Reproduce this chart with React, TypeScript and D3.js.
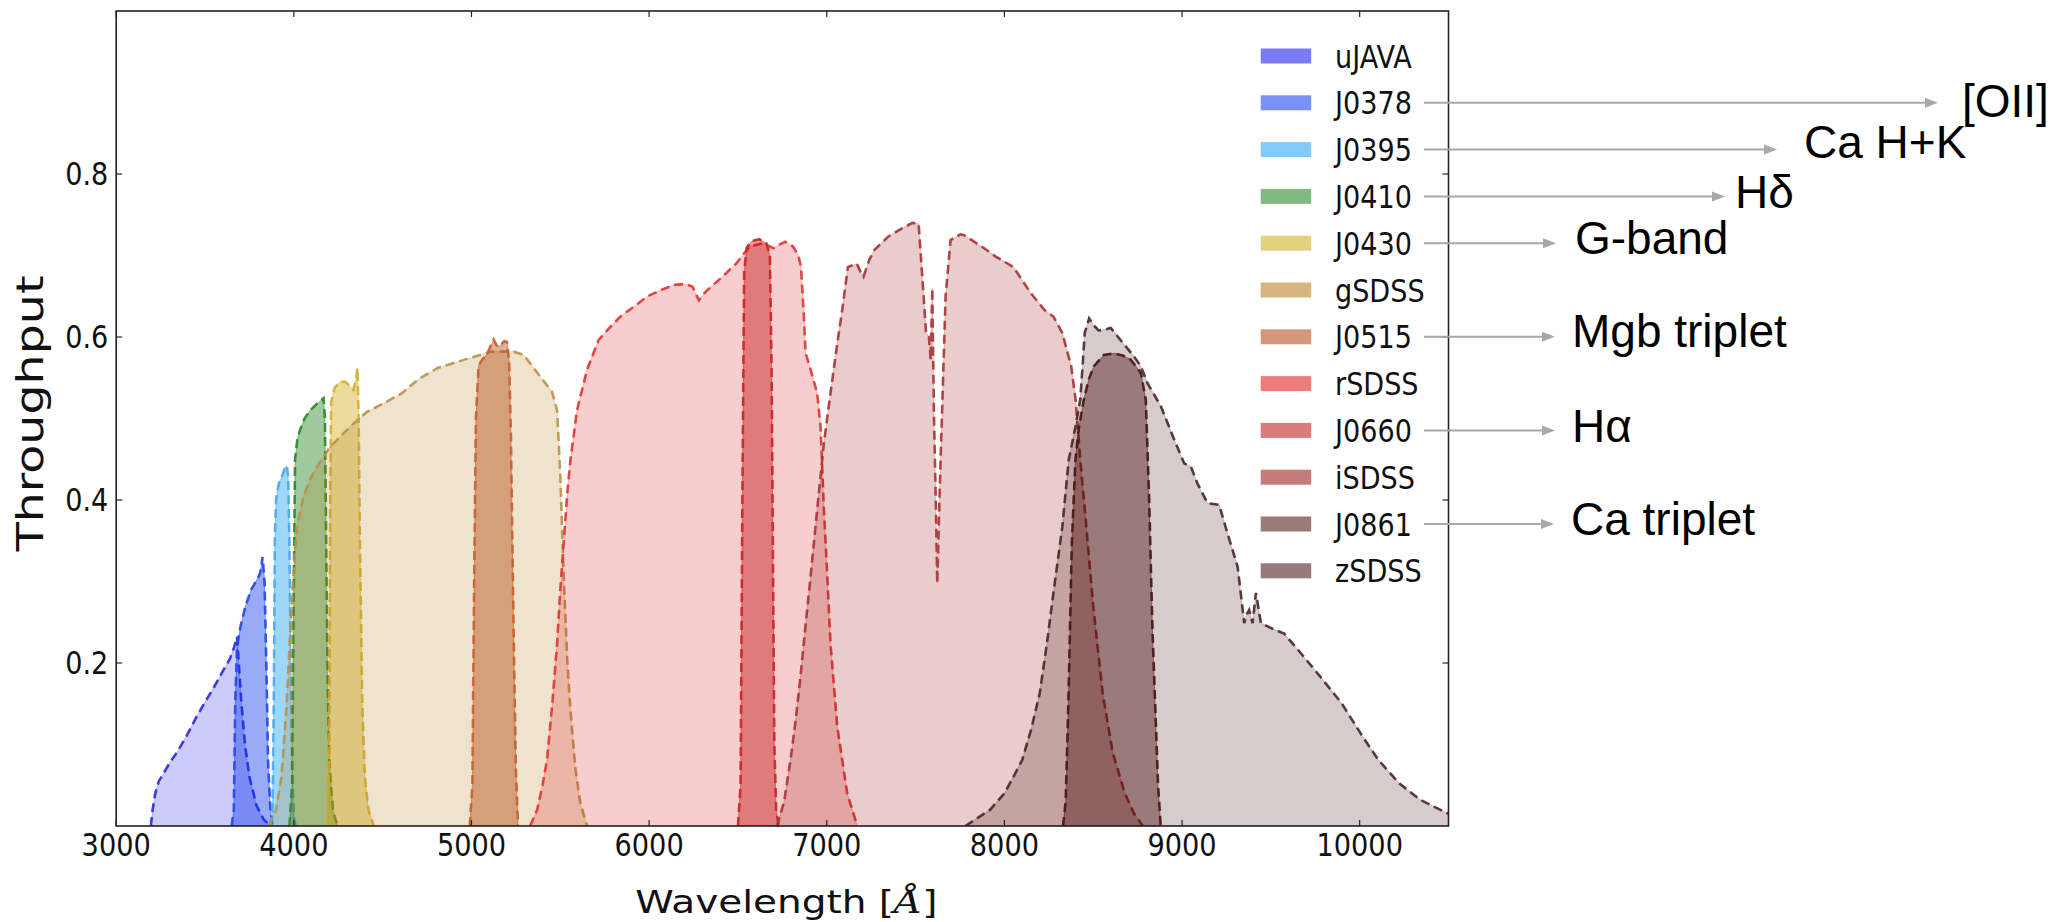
import React from 'react';
import * as d3 from 'd3';

type Pt = [number, number];

// ---- Filter throughput curves (wavelength in Å, throughput) ----
const uJAVA: Pt[] = [[3195,0],[3205,0.02],[3220,0.04],[3240,0.055],[3300,0.077],[3350,0.093],[3400,0.112],[3450,0.133],[3500,0.152],[3550,0.17],[3600,0.19],[3640,0.205],[3665,0.22],[3680,0.232],[3690,0.2],[3705,0.15],[3725,0.1],[3750,0.06],[3790,0.025],[3830,0.008],[3870,0]];
const J0378: Pt[] = [[3650,0],[3662,0.02],[3670,0.15],[3680,0.22],[3700,0.245],[3728,0.27],[3760,0.29],[3792,0.302],[3810,0.31],[3824,0.33],[3835,0.3],[3845,0.2],[3855,0.08],[3868,0.02],[3880,0]];
const J0395: Pt[] = [[3868,0],[3880,0.02],[3887,0.15],[3893,0.35],[3900,0.4],[3915,0.42],[3935,0.43],[3950,0.44],[3960,0.442],[3968,0.43],[3975,0.35],[3982,0.2],[3990,0.07],[4000,0.01],[4010,0]];
const J0410: Pt[] = [[3975,0],[3990,0.05],[4000,0.3],[4007,0.45],[4020,0.475],[4035,0.486],[4060,0.5],[4092,0.51],[4130,0.518],[4167,0.525],[4175,0.5],[4182,0.35],[4190,0.18],[4200,0.08],[4220,0.02],[4245,0]];
const J0430: Pt[] = [[4190,0],[4200,0.1],[4205,0.4],[4210,0.52],[4230,0.538],[4260,0.545],[4290,0.545],[4315,0.54],[4335,0.535],[4350,0.548],[4358,0.562],[4365,0.5],[4372,0.35],[4385,0.15],[4400,0.06],[4420,0.02],[4450,0]];
const gSDSS: Pt[] = [[3860,0],[3900,0.02],[3930,0.06],[3960,0.15],[3980,0.24],[3995,0.3],[4017,0.367],[4054,0.404],[4090,0.425],[4130,0.441],[4204,0.465],[4317,0.49],[4410,0.508],[4500,0.518],[4609,0.531],[4700,0.548],[4810,0.562],[4900,0.568],[4986,0.574],[5050,0.578],[5112,0.582],[5238,0.582],[5294,0.578],[5340,0.565],[5388,0.551],[5453,0.533],[5482,0.51],[5500,0.43],[5519,0.306],[5540,0.2],[5557,0.142],[5585,0.07],[5613,0.028],[5650,0]];
const J0515: Pt[] = [[4990,0],[5005,0.05],[5015,0.3],[5025,0.5],[5040,0.565],[5060,0.572],[5090,0.58],[5110,0.59],[5125,0.597],[5145,0.588],[5165,0.59],[5185,0.595],[5200,0.594],[5212,0.57],[5222,0.48],[5230,0.35],[5240,0.2],[5250,0.07],[5262,0]];
const rSDSS: Pt[] = [[5330,0],[5370,0.02],[5400,0.05],[5425,0.081],[5455,0.15],[5482,0.224],[5500,0.29],[5519,0.347],[5540,0.41],[5557,0.449],[5594,0.51],[5651,0.56],[5715,0.596],[5780,0.612],[5838,0.625],[5900,0.635],[5992,0.65],[6070,0.658],[6143,0.664],[6200,0.665],[6244,0.662],[6280,0.645],[6320,0.656],[6413,0.674],[6490,0.69],[6565,0.711],[6641,0.715],[6700,0.709],[6720,0.712],[6767,0.717],[6810,0.711],[6840,0.7],[6855,0.686],[6870,0.63],[6881,0.58],[6909,0.56],[6946,0.531],[6965,0.49],[6984,0.388],[7003,0.306],[7021,0.224],[7059,0.122],[7115,0.04],[7172,0]];
const J0660: Pt[] = [[6500,0],[6515,0.05],[6525,0.4],[6535,0.68],[6550,0.71],[6580,0.718],[6620,0.72],[6660,0.715],[6680,0.7],[6690,0.55],[6698,0.3],[6705,0.1],[6715,0.02],[6730,0]];
const iSDSS: Pt[] = [[6720,0],[6760,0.03],[6796,0.081],[6825,0.13],[6852,0.183],[6880,0.245],[6909,0.306],[6946,0.388],[6984,0.47],[7021,0.531],[7059,0.592],[7087,0.633],[7119,0.686],[7169,0.69],[7190,0.68],[7207,0.674],[7240,0.695],[7269,0.707],[7345,0.723],[7421,0.733],[7483,0.74],[7517,0.739],[7534,0.686],[7559,0.605],[7575,0.6],[7585,0.572],[7594,0.66],[7603,0.51],[7613,0.408],[7622,0.298],[7632,0.38],[7641,0.45],[7669,0.65],[7697,0.719],[7753,0.726],[7773,0.725],[7872,0.711],[7949,0.699],[8050,0.686],[8148,0.654],[8226,0.633],[8276,0.625],[8326,0.605],[8376,0.564],[8401,0.523],[8427,0.449],[8460,0.37],[8500,0.27],[8553,0.163],[8610,0.09],[8678,0.04],[8730,0.015],[8780,0]];
const J0861: Pt[] = [[8330,0],[8345,0.03],[8360,0.15],[8380,0.35],[8400,0.45],[8420,0.49],[8447,0.523],[8475,0.548],[8503,0.564],[8560,0.578],[8617,0.58],[8670,0.577],[8712,0.572],[8768,0.556],[8796,0.523],[8815,0.4],[8834,0.237],[8852,0.13],[8865,0.05],[8880,0]];
const zSDSS: Pt[] = [[7780,0],[7850,0.01],[7920,0.02],[8000,0.04],[8050,0.06],[8100,0.081],[8150,0.118],[8199,0.163],[8240,0.225],[8276,0.286],[8326,0.367],[8362,0.449],[8400,0.49],[8427,0.523],[8440,0.564],[8452,0.605],[8477,0.623],[8500,0.615],[8530,0.608],[8561,0.609],[8599,0.611],[8655,0.596],[8730,0.576],[8768,0.564],[8806,0.543],[8881,0.515],[8956,0.474],[9012,0.445],[9050,0.441],[9087,0.42],[9144,0.396],[9209,0.394],[9256,0.359],[9313,0.318],[9350,0.249],[9365,0.26],[9378,0.265],[9397,0.249],[9416,0.286],[9444,0.249],[9519,0.241],[9575,0.236],[9669,0.212],[9779,0.183],[9897,0.151],[10016,0.11],[10105,0.081],[10224,0.052],[10342,0.032],[10500,0.015]];

const filterNames = ['uJAVA','J0378','J0395','J0410','J0430','gSDSS','J0515','rSDSS','J0660','iSDSS','J0861','zSDSS'];
const filterCurves = [uJAVA,J0378,J0395,J0410,J0430,gSDSS,J0515,rSDSS,J0660,iSDSS,J0861,zSDSS];
const broadBands = ['uJAVA','gSDSS','rSDSS','iSDSS','zSDSS'];
const baseColors = ['#0000eb','#002deb','#0f9bf1','#117b09','#cda50b','#b17309','#b13900','#dd0505','#bd0000','#930101','#410000','#370001'];
const lineColors = ['#2b2be0','#2448e6','#4aa8f2','#2a8a2a','#d6b030','#b8924a','#c8602e','#e03535','#cc2424','#a83434','#4a1c1c','#4a2828'];

const xTicks = [3000,4000,5000,6000,7000,8000,9000,10000];
const yTicks = [0.2,0.4,0.6,0.8];

const annotFilters = ['J0378','J0395','J0410','J0430','J0515','J0660','J0861'];
const annotLabels = ['[OII]','Ca H+K','Hδ','G-band','Mgb triplet','Hα','Ca triplet'];

// ---- layout (pixels) ----
const W = 2055, H = 922;
const PL = 116.2, PR = 1448.5, PT = 11, PB = 826;
const arrowTips = [1938,1777,1725,1556,1555,1555,1554];
const annotTextX = [1962,1804,1735,1575,1572,1572,1571];
const annotBaseDy = [14.5,8.5,11.5,10.7,10.3,11.4,10.7];

export default function App() {
  const x = d3.scaleLinear().domain([3000,10500]).range([PL,PR]);
  const y = d3.scaleLinear().domain([0,1]).range([PB,PT]);
  const area = d3.area<Pt>().x(d=>x(d[0])).y0(y(0)).y1(d=>y(d[1]));
  const line = d3.line<Pt>().x(d=>x(d[0])).y(d=>y(d[1]));
  const legendY0 = 56, legendStep = 46.8;
  const tickFont = 'DejaVu Sans, Verdana, sans-serif';

  return (
    <svg width={W} height={H} style={{position:'absolute',left:0,top:0,background:'#fff'}} xmlns="http://www.w3.org/2000/svg">
      <rect x={0} y={0} width={W} height={H} fill="#fff"/>
      <defs>
        <clipPath id="plotclip"><rect x={PL} y={PT} width={PR-PL} height={PB-PT}/></clipPath>
      </defs>
      <g clipPath="url(#plotclip)">
        {filterCurves.map((c,i)=>{
          const a = broadBands.includes(filterNames[i]) ? 0.2 : 0.4;
          return (
            <g key={filterNames[i]}>
              <path d={area(c)!} fill={baseColors[i]} fillOpacity={a} stroke={baseColors[i]} strokeOpacity={a} strokeWidth={1}/>
              <path d={line(c)!} fill="none" stroke={lineColors[i]} strokeOpacity={0.9} strokeWidth={2.6} strokeDasharray="9,5"/>
            </g>
          );
        })}
      </g>
      {/* frame */}
      <rect x={PL} y={PT} width={PR-PL} height={PB-PT} fill="none" stroke="#222" strokeWidth={1.6}/>
      {/* ticks */}
      {xTicks.map(t=>(
        <g key={'xt'+t}>
          <line x1={x(t)} x2={x(t)} y1={PB} y2={PB-6} stroke="#222" strokeWidth={1.2}/>
          <line x1={x(t)} x2={x(t)} y1={PT} y2={PT+6} stroke="#222" strokeWidth={1.2}/>
          <text transform={`translate(${x(t)},856) scale(0.85,1)`} textAnchor="middle" fontFamily={tickFont} fontSize={32} fill="#111">{t}</text>
        </g>
      ))}
      {yTicks.map(t=>(
        <g key={'yt'+t}>
          <line x1={PL} x2={PL+6} y1={y(t)} y2={y(t)} stroke="#222" strokeWidth={1.2}/>
          <line x1={PR} x2={PR-6} y1={y(t)} y2={y(t)} stroke="#222" strokeWidth={1.2}/>
          <text transform={`translate(108.3,${y(t)+11.4}) scale(0.86,1)`} textAnchor="end" fontFamily={tickFont} fontSize={31.5} fill="#111">{t.toFixed(1)}</text>
        </g>
      ))}
      {/* axis labels */}
      <text transform={`translate(${(PL+PR)/2+4},913) scale(1.2,1)`} textAnchor="middle" fontFamily={tickFont} fontSize={32.5} fill="#111">
        Wavelength [<tspan fontFamily="DejaVu Serif, serif" fontStyle="italic">Å</tspan>]
      </text>
      <text transform={`translate(42.7,413.4) rotate(-90) scale(1.25,1)`} textAnchor="middle" fontFamily={tickFont} fontSize={38} fill="#111">Throughput</text>
      {/* legend */}
      {filterNames.map((n,i)=>{
        const cy = legendY0 + i*legendStep;
        return (
          <g key={'lg'+n}>
            <rect x={1260.7} y={cy-7.5} width={50.5} height={15} fill={baseColors[i]} fillOpacity={0.52}/>
            <text transform={`translate(1335,${cy+11.5}) scale(0.86,1)`} fontFamily={tickFont} fontSize={31.5} fill="#111">{n}</text>
          </g>
        );
      })}
      {/* annotations */}
      {annotFilters.map((f,j)=>{
        const i = filterNames.indexOf(f);
        const cy = legendY0 + i*legendStep;
        const tip = arrowTips[j];
        return (
          <g key={'an'+f}>
            <line x1={1424} x2={tip-12} y1={cy} y2={cy} stroke="#a8a8a8" strokeWidth={2}/>
            <polygon points={`${tip},${cy} ${tip-13},${cy-5} ${tip-13},${cy+5}`} fill="#a8a8a8"/>
            <text x={annotTextX[j]} y={cy+annotBaseDy[j]} fontFamily="Liberation Sans, Arial, Helvetica, sans-serif" fontSize={46} fill="#000">{annotLabels[j]}</text>
          </g>
        );
      })}
    </svg>
  );
}
